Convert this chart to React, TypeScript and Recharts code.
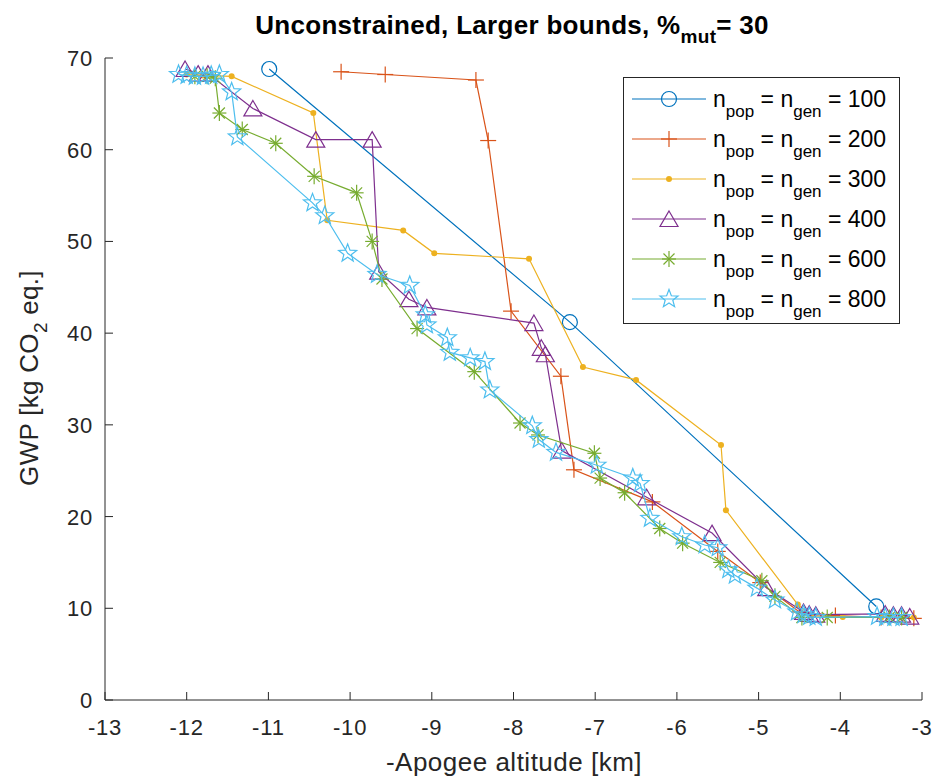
import React from "react";
import { ScatterChart, Scatter, XAxis, YAxis } from "recharts";

// -Apogee altitude [km] / GWP [kg CO2 eq.] per run size
const pop100X = [-10.99, -7.31, -3.56];
const pop100Y = [68.8, 41.2, 10.2];

const pop200X = [-10.11, -9.57, -8.46, -8.31, -8.03, -7.42, -7.26, -6.3, -5.5, -4.98, -4.5, -4.06, -3.5, -3.1];
const pop200Y = [68.5, 68.2, 67.6, 61.0, 42.4, 35.3, 25.1, 21.6, 16.2, 12.8, 9.6, 9.2, 9.0, 8.9];

const pop300X = [-12.0, -11.8, -11.45, -10.45, -10.28, -9.35, -8.97, -7.81, -7.15, -6.5, -5.46, -5.4, -4.52, -4.35, -3.97, -3.5, -3.1];
const pop300Y = [68.2, 68.1, 68.0, 64.0, 52.3, 51.2, 48.7, 48.1, 36.3, 34.9, 27.8, 20.7, 10.4, 9.2, 9.05, 9.0, 9.0];

const pop400X = [-12.02, -11.86, -11.74, -11.19, -10.42, -9.73, -9.65, -9.28, -9.06, -7.75, -7.66, -7.61, -7.41, -6.37, -5.57, -4.9, -4.45, -4.38, -4.3, -3.45, -3.35, -3.25, -3.15];
const pop400Y = [68.8, 68.3, 68.3, 64.5, 61.1, 61.1, 46.7, 43.7, 42.8, 41.1, 38.4, 37.7, 27.2, 22.1, 18.2, 12.2, 9.6, 9.4, 9.3, 9.4, 9.3, 9.3, 9.1];

const pop600X = [-11.9, -11.75, -11.65, -11.6, -11.32, -10.91, -10.44, -9.92, -9.73, -9.61, -9.18, -8.48, -7.92, -7.7, -7.01, -6.94, -6.64, -6.21, -5.93, -5.47, -4.96, -4.8, -4.47, -4.16, -3.4, -3.25];
const pop600Y = [68.0, 68.0, 67.8, 64.0, 62.2, 60.7, 57.1, 55.3, 50.0, 45.9, 40.5, 35.8, 30.2, 28.9, 26.9, 24.2, 22.6, 18.7, 17.1, 15.0, 13.0, 11.3, 9.0, 9.0, 9.0, 9.0];

const pop800X = [-12.1, -12.0, -11.9, -11.8, -11.7, -11.6, -11.45, -11.38, -10.46, -10.31, -10.03, -9.67, -9.27, -9.08, -9.06, -8.81, -8.78, -8.53, -8.35, -8.29, -7.77, -7.69, -7.48, -6.98, -6.54, -6.45, -6.33, -5.94, -5.66, -5.5, -5.37, -5.29, -5.02, -4.8, -4.53, -4.45, -4.38, -4.3, -3.55, -3.45, -3.35, -3.25];
const pop800Y = [68.2, 68.1, 68.0, 68.0, 68.1, 68.2, 66.3, 61.4, 54.2, 52.8, 48.7, 46.4, 45.2, 42.0, 40.9, 39.5, 37.9, 37.3, 36.9, 33.8, 29.9, 28.4, 27.0, 25.6, 24.2, 23.6, 19.8, 17.8, 16.9, 16.6, 14.2, 13.6, 12.2, 10.9, 9.6, 9.3, 9.1, 9.0, 9.1, 9.0, 9.0, 9.0];

const xTicks = [-13, -12, -11, -10, -9, -8, -7, -6, -5, -4, -3];
const yTicks = [0, 10, 20, 30, 40, 50, 60, 70];

const FONT = "'Liberation Sans', Arial, Helvetica, sans-serif";
const AXIS = "#262626";

const zip = (xs: number[], ys: number[]) => xs.map((x, i) => ({ x, y: ys[i] }));

const series = [
  { key: "100", data: zip(pop100X, pop100Y), color: "#0072BD", marker: "circle" },
  { key: "200", data: zip(pop200X, pop200Y), color: "#D95319", marker: "plus" },
  { key: "300", data: zip(pop300X, pop300Y), color: "#EDB120", marker: "dot" },
  { key: "400", data: zip(pop400X, pop400Y), color: "#7E2F8E", marker: "triangle" },
  { key: "600", data: zip(pop600X, pop600Y), color: "#77AC30", marker: "asterisk" },
  { key: "800", data: zip(pop800X, pop800Y), color: "#4DBEEE", marker: "star" },
];

const starPoints = (r: number) => {
  const pts: string[] = [];
  for (let i = 0; i < 10; i++) {
    const rad = i % 2 === 0 ? r : r * 0.42;
    const a = -Math.PI / 2 + (i * Math.PI) / 5;
    pts.push(`${(rad * Math.cos(a)).toFixed(2)},${(rad * Math.sin(a)).toFixed(2)}`);
  }
  return pts.join(" ");
};

const Marker = ({ kind, color, cx, cy }: { kind: string; color: string; cx: number; cy: number }) => {
  const sw = 1.2;
  let body: React.ReactNode = null;
  if (kind === "circle") body = <circle r={7.5} fill="none" stroke={color} strokeWidth={sw} />;
  else if (kind === "plus")
    body = (
      <g stroke={color} strokeWidth={sw}>
        <line x1={-8} y1={0} x2={8} y2={0} />
        <line x1={0} y1={-8} x2={0} y2={8} />
      </g>
    );
  else if (kind === "dot") body = <circle r={3} fill={color} />;
  else if (kind === "triangle")
    body = <polygon points="0,-8 9,7.5 -9,7.5" fill="none" stroke={color} strokeWidth={sw} />;
  else if (kind === "asterisk")
    body = (
      <g stroke={color} strokeWidth={sw}>
        <line x1={-7} y1={0} x2={7} y2={0} />
        <line x1={0} y1={-8} x2={0} y2={8} />
        <line x1={-5.5} y1={-5.5} x2={5.5} y2={5.5} />
        <line x1={-5.5} y1={5.5} x2={5.5} y2={-5.5} />
      </g>
    );
  else if (kind === "star") body = <polygon points={starPoints(9.5)} fill="none" stroke={color} strokeWidth={sw} />;
  return <g transform={`translate(${cx},${cy})`}>{body}</g>;
};

const XTick = (props: any) => {
  const { x, y, payload } = props;
  return (
    <g>
      <line x1={x} y1={y} x2={x} y2={y - 8} stroke={AXIS} strokeWidth={1} />
      <text x={x} y={y + 35} textAnchor="middle" fontSize={22} letterSpacing={0.8} fontFamily={FONT} fill={AXIS}>
        {payload.value}
      </text>
    </g>
  );
};

const YTick = (props: any) => {
  const { x, y, payload } = props;
  return (
    <g>
      <line x1={x} y1={y} x2={x + 8} y2={y} stroke={AXIS} strokeWidth={1} />
      <text x={x - 12} y={y + 8} textAnchor="end" fontSize={22} letterSpacing={0.8} fontFamily={FONT} fill={AXIS}>
        {payload.value}
      </text>
    </g>
  );
};

const LegendBox = ({ left, top }: { left: number; top: number }) => (
  <g transform={`translate(${left},${top})`}>
    <rect x={0.5} y={0.5} width={276} height={246} fill="#fff" stroke={AXIS} strokeWidth={1} />
    {series.map((s, i) => {
      const cy = 22 + i * 40;
      return (
        <g key={s.key}>
          <line x1={9} y1={cy} x2={83} y2={cy} stroke={s.color} strokeWidth={1.2} />
          <Marker kind={s.marker} color={s.color} cx={46} cy={cy} />
          <text x={90} y={cy + 8} fontSize={23} fontFamily={FONT} fill="#000">
            n<tspan fontSize={17} dy={10}>pop</tspan>
            <tspan dy={-10}> = n</tspan>
            <tspan fontSize={17} dy={10}>gen</tspan>
            <tspan dy={-10}> = {s.key}</tspan>
          </text>
        </g>
      );
    })}
  </g>
);

export default function App() {
  return (
    <div style={{ width: 932, height: 779, position: "relative", background: "#fff" }}>
      <style>{`body{margin:0}`}</style>
      <ScatterChart width={932} height={779} margin={{ top: 58, right: 10, bottom: 0, left: 0 }}>
        <XAxis
          type="number"
          dataKey="x"
          domain={[-13, -3]}
          ticks={xTicks}
          allowDataOverflow
          height={79}
          stroke={AXIS}
          tickSize={0}
          tickMargin={0}
          tickLine={false}
          tick={<XTick />}
        />
        <YAxis
          type="number"
          dataKey="y"
          domain={[0, 70]}
          ticks={yTicks}
          allowDataOverflow
          width={105}
          stroke={AXIS}
          tickSize={0}
          tickMargin={0}
          tickLine={false}
          tick={<YTick />}
        />
        {series.map((s) => (
          <Scatter
            key={s.key}
            name={s.key}
            data={s.data}
            fill={s.color}
            line={{ stroke: s.color, strokeWidth: 1.2 }}
            lineType="joint"
            isAnimationActive={false}
            shape={(p: any) => <Marker kind={s.marker} color={s.color} cx={p.cx} cy={p.cy} />}
          />
        ))}
        <LegendBox left={623} top={77} />
        <text x={512} y={34} textAnchor="middle" fontSize={26} fontWeight="bold" letterSpacing={0.3} fontFamily={FONT} fill="#000">
          Unconstrained, Larger bounds, %<tspan fontSize={19} dy={9}>mut</tspan>
          <tspan dy={-9}>= 30</tspan>
        </text>
        <text x={514} y={771} textAnchor="middle" fontSize={26} letterSpacing={0.5} fontFamily={FONT} fill={AXIS}>
          -Apogee altitude [km]
        </text>
        <text
          transform="translate(38,378) rotate(-90)"
          textAnchor="middle"
          fontSize={26}
          letterSpacing={0.3}
          fontFamily={FONT}
          fill={AXIS}
        >
          GWP [kg CO<tspan fontSize={19} dy={9}>2</tspan>
          <tspan dy={-9}> eq.]</tspan>
        </text>
      </ScatterChart>
    </div>
  );
}
